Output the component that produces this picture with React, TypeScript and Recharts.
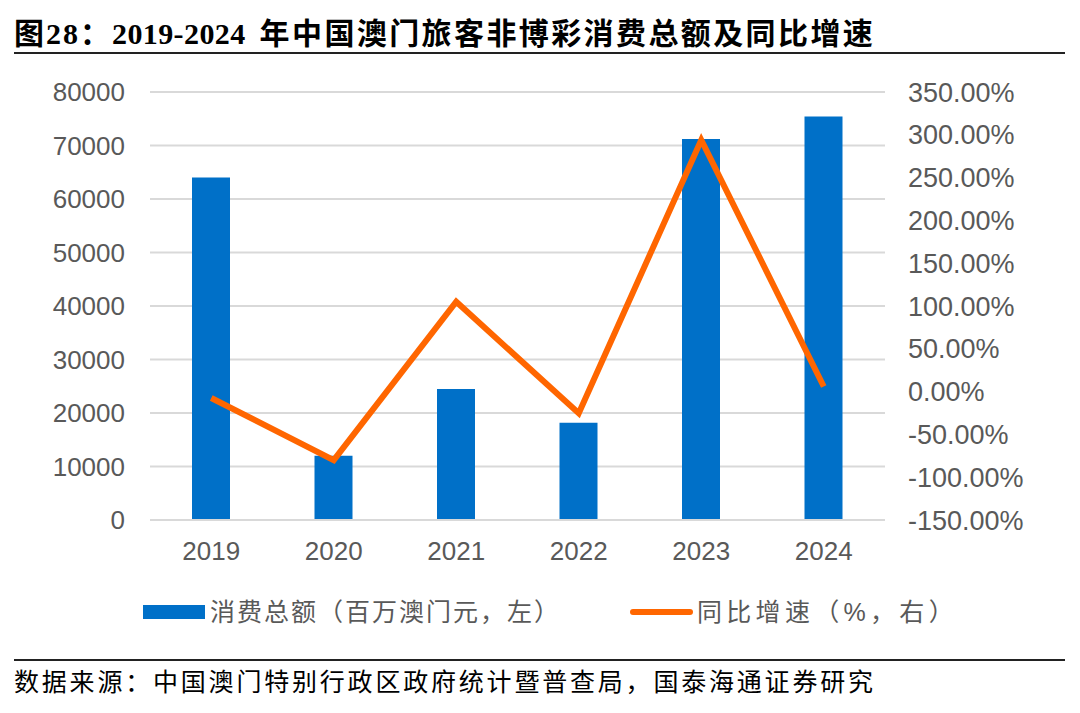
import React from "react";
import {
    ComposedChart,
    Bar,
    Line,
    XAxis,
    YAxis,
    CartesianGrid,
} from "recharts";

const years = ["2019", "2020", "2021", "2022", "2023", "2024"];
const spending = [64000, 12000, 24500, 18200, 71200, 75400];
const growth = [-7.5, -80, 105, -25.4, 294, 6];
const leftTicks = [0, 10000, 20000, 30000, 40000, 50000, 60000, 70000, 80000];
const rightTicks = [-150, -100, -50, 0, 50, 100, 150, 200, 250, 300, 350];

const data = years.map((y, i) => ({ year: y, spending: spending[i], growth: growth[i] }));

const BLUE = "#0070C8";
const ORANGE = "#FF6600";
const AXIS_TEXT = "#595959";
const sansFont = '"Liberation Sans", Arial, sans-serif';
const cjkFont = '"Liberation Sans", "Noto Sans CJK SC", sans-serif';

export default function App() {
    return (
        <div style={{ position: "absolute", top: 0, left: 0, width: 1080, height: 713, background: "#fff" }}>
            <div
                style={{
                    position: "absolute",
                    left: 14,
                    top: 14,
                    fontFamily: '"Liberation Serif", "Noto Sans CJK SC", serif',
                    fontWeight: "bold",
                    fontSize: 30,
                    lineHeight: "40px",
                    color: "#000",
                    whiteSpace: "nowrap",
                }}
            >
                <span style={{ letterSpacing: 2 }}>图28：</span>
                <span style={{ letterSpacing: 0.4, marginRight: 14 }}>2019-2024</span>
                <span style={{ letterSpacing: 2.4 }}>年中国澳门旅客非博彩消费总额及同比增速</span>
            </div>
            <div style={{ position: "absolute", left: 14, top: 52, width: 1051, height: 2, background: "#222" }} />

            <div style={{ position: "absolute", left: 0, top: 0 }}>
                <ComposedChart
                    width={1080}
                    height={580}
                    data={data}
                    margin={{ top: 92, right: 0, bottom: 20, left: 0 }}
                >
                    <CartesianGrid yAxisId="left" vertical={false} stroke="#d9d9d9" strokeWidth={2} />
                    <XAxis
                        dataKey="year"
                        height={40}
                        tickLine={false}
                        axisLine={{ stroke: "#d9d9d9", strokeWidth: 2 }}
                        tickMargin={16}
                        tick={{ fill: AXIS_TEXT, fontSize: 26, fontFamily: sansFont }}
                    />
                    <YAxis
                        yAxisId="left"
                        width={150}
                        domain={[0, 80000]}
                        ticks={leftTicks}
                        tickLine={false}
                        axisLine={false}
                        tickMargin={19}
                        tick={{ fill: AXIS_TEXT, fontSize: 26, fontFamily: sansFont }}
                    />
                    <YAxis
                        yAxisId="right"
                        orientation="right"
                        width={195}
                        domain={[-150, 350]}
                        ticks={rightTicks}
                        tickLine={false}
                        axisLine={false}
                        tickMargin={17}
                        tickFormatter={(v: number) => v.toFixed(2) + "%"}
                        tick={{ fill: AXIS_TEXT, fontSize: 27, fontFamily: sansFont, textAnchor: "start" }}
                    />
                    <Bar yAxisId="left" dataKey="spending" fill={BLUE} barSize={38} isAnimationActive={false} />
                    <Line
                        yAxisId="right"
                        dataKey="growth"
                        stroke={ORANGE}
                        strokeWidth={6}
                        dot={false}
                        activeDot={false}
                        type="linear"
                        isAnimationActive={false}
                    />
                </ComposedChart>
            </div>

            {/* legend */}
            <div style={{ position: "absolute", left: 143, top: 605, width: 62, height: 14, background: BLUE }} />
            <div
                style={{
                    position: "absolute",
                    left: 210,
                    top: 594,
                    fontFamily: cjkFont,
                    fontSize: 25,
                    lineHeight: "36px",
                    letterSpacing: 2,
                    color: AXIS_TEXT,
                    whiteSpace: "nowrap",
                }}
            >
                消费总额（百万澳门元，左）
            </div>
            <div style={{ position: "absolute", left: 630, top: 609, width: 63, height: 6, borderRadius: 3, background: ORANGE }} />
            <div
                style={{
                    position: "absolute",
                    left: 697,
                    top: 594,
                    fontFamily: cjkFont,
                    fontSize: 25,
                    lineHeight: "36px",
                    letterSpacing: 4.3,
                    color: AXIS_TEXT,
                    whiteSpace: "nowrap",
                }}
            >
                同比增速（%，右）
            </div>

            {/* source */}
            <div style={{ position: "absolute", left: 14, top: 659, width: 1051, height: 2, background: "#222" }} />
            <div
                style={{
                    position: "absolute",
                    left: 14,
                    top: 665,
                    fontFamily: '"Liberation Serif", "Noto Sans CJK SC", serif',
                    fontSize: 25,
                    letterSpacing: 2.8,
                    lineHeight: "36px",
                    color: "#000",
                    whiteSpace: "nowrap",
                }}
            >
                数据来源：中国澳门特别行政区政府统计暨普查局，国泰海通证券研究
            </div>
        </div>
    );
}
